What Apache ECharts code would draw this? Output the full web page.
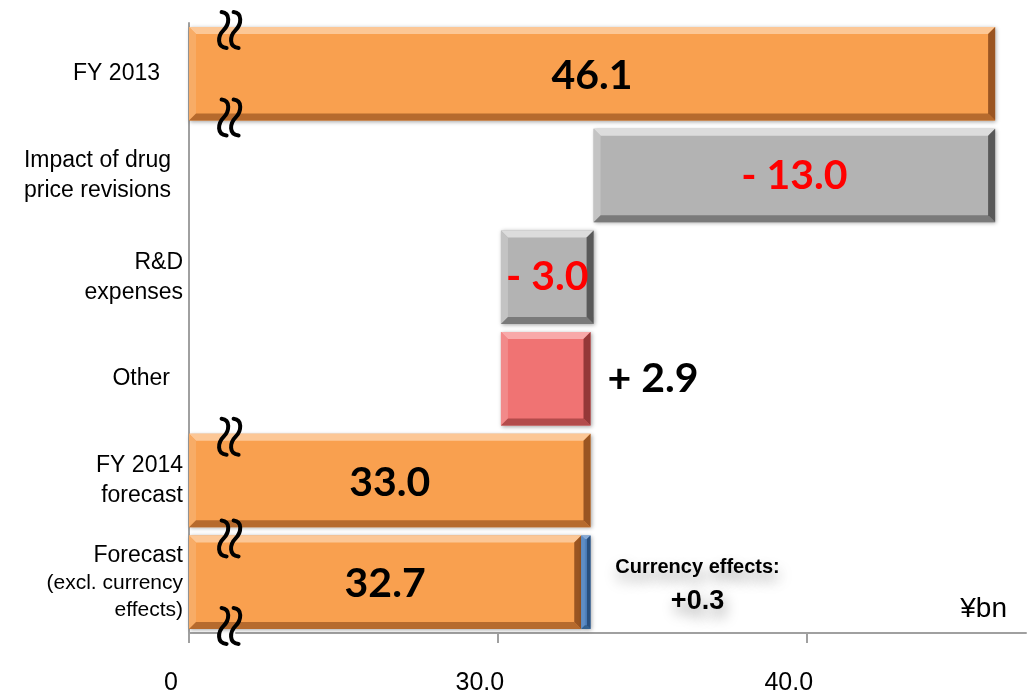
<!DOCTYPE html>
<html>
<head>
<meta charset="utf-8">
<title>Operating income bridge</title>
<script src="https://cdn.jsdelivr.net/npm/echarts@6/dist/echarts.min.js"></script>
<style>
  html, body { margin: 0; padding: 0; background: #ffffff; }
  #chart { width: 1028px; height: 696px; }
</style>
</head>
<body>
<div id="chart"></div>
<script>
// Bridge from FY 2013 results to the FY 2014 forecast, in ¥bn.
const categories = [
  'FY 2013',
  'Impact of drug\nprice revisions',
  'R&D\nexpenses',
  'Other',
  'FY 2014\nforecast',
  'Forecast\n(excl. currency\neffects)'
];
// Totals start at zero; the other steps are stacked onto the running total.
const stepValues = [46.1, -13.0, -3.0, 2.9, 33.0, 32.7];
const stepIsTotal = [true, false, false, false, true, true];
// Currency effects, stacked onto the last forecast bar.
const currencyEffect = 0.3;
const currencyTitle = 'Currency effects:';

// Value axis: labelled ticks and the stretch that is cut out.
const axisTickValues = [0, 30, 40];
const axisMax = 47.1;
const axisBreak = { start: 1, end: 21.5, gap: 0.5 };
// Bars drawn across the cut: [category index, edge (-1 top, 1 bottom)].
const breakMarks = [[0, -1], [0, 1], [4, -1], [5, -1], [5, 1]];

// ---- waterfall geometry built from the values above ----
const barData = [];
const barKinds = [];
let running = 0;
stepValues.forEach((v, i) => {
  let from, to;
  if (stepIsTotal[i]) {
    from = 0; to = v; running = v;
    barKinds.push('total');
  } else {
    from = running; to = running + v; running = to;
    barKinds.push(v < 0 ? 'down' : 'up');
  }
  barData.push([Math.min(from, to), Math.max(from, to), i, v]);
});
const lastIndex = stepValues.length - 1;
barData.push([stepValues[lastIndex], stepValues[lastIndex] + currencyEffect, lastIndex, currencyEffect]);
barKinds.push('currency');

// Bevelled fills: face, then the four sloped edges.
const palette = {
  total:    { base: '#F9A04F', top: '#FCC796', left: '#F8AC66', bottom: '#B66A2D', right: '#9A5522' },
  down:     { base: '#B3B3B3', top: '#DCDCDC', left: '#C3C3C3', bottom: '#7A7A7A', right: '#595959' },
  up:       { base: '#F07373', top: '#F8A9A9', left: '#F28A8A', bottom: '#B34B4B', right: '#943838' },
  currency: { base: '#4F81BD', top: '#86A8D3', left: '#5F8DC5', bottom: '#33608F', right: '#294F7E' }
};
const BAR_FILL = 0.92;
const valueFont = 'bold 41px Lato';

function textEl(text, x, y, opts) {
  return {
    type: 'text',
    z2: 10,
    style: Object.assign({
      text: text, x: x, y: y,
      align: 'center', textAlign: 'center',
      verticalAlign: 'middle', textVerticalAlign: 'middle',
      font: valueFont, fill: '#000000'
    }, opts || {})
  };
}

function renderBar(params, api) {
  const cat = api.value(2);
  const p0 = api.coord([api.value(0), cat]);
  const p1 = api.coord([api.value(1), cat]);
  const h = api.size([0, 1])[1] * BAR_FILL;
  const x = p0[0];
  const w = p1[0] - p0[0];
  const y = p0[1] - h / 2;
  const kind = barKinds[params.dataIndex];
  const c = palette[kind];
  const b = Math.max(1, Math.min(7, w / 2 - 1, h / 2));
  const children = [
    { type: 'rect', shape: { x: x, y: y, width: w, height: h },
      style: { fill: c.base, shadowBlur: 4, shadowOffsetX: 1, shadowOffsetY: 1, shadowColor: 'rgba(0,0,0,0.35)' } },
    { type: 'polygon', shape: { points: [[x, y], [x + w, y], [x + w - b, y + b], [x + b, y + b]] }, style: { fill: c.top } },
    { type: 'polygon', shape: { points: [[x, y], [x + b, y + b], [x + b, y + h - b], [x, y + h]] }, style: { fill: c.left } },
    { type: 'polygon', shape: { points: [[x, y + h], [x + b, y + h - b], [x + w - b, y + h - b], [x + w, y + h]] }, style: { fill: c.bottom } },
    { type: 'polygon', shape: { points: [[x + w, y], [x + w, y + h], [x + w - b, y + h - b], [x + w - b, y + b]] }, style: { fill: c.right } }
  ];
  const v = api.value(3);
  const cx = x + w / 2;
  const cy = y + h / 2;
  if (kind === 'total') {
    children.push(textEl(v.toFixed(1), cx, cy + 2));
  } else if (kind === 'down') {
    children.push(textEl('- ' + Math.abs(v).toFixed(1), cx, cy, { fill: '#FF0000' }));
  } else if (kind === 'up') {
    children.push(textEl('+ ' + v.toFixed(1), x + w + 17, cy, { align: 'left', textAlign: 'left' }));
  } else {
    const shadow = { textShadowColor: 'rgba(0,0,0,0.4)', textShadowBlur: 14, textShadowOffsetX: 2, textShadowOffsetY: 8 };
    children.push(textEl(currencyTitle, x + w + 107, cy - 15,
      Object.assign({ font: 'bold 20px "Liberation Sans"' }, shadow)));
    children.push(textEl('+' + v.toFixed(1), x + w + 107, cy + 19,
      Object.assign({ font: 'bold 27px "Liberation Sans"' }, shadow)));
  }
  return { type: 'group', children: children };
}

// Two wavy strokes marking where a bar crosses the cut in the axis.
function renderBreakMark(params, api) {
  const cat = api.value(1);
  const sign = api.value(2);
  const a = api.coord([axisBreak.start, cat]);
  const e = api.coord([axisBreak.end, cat]);
  const h = api.size([0, 1])[1] * BAR_FILL;
  const cx = (a[0] + e[0]) / 2 + 2;
  const cy = a[1] + sign * (h / 2 - 3);
  const stroke = (sx) => {
    const p = (dx, dy) => (sx + dx).toFixed(1) + ' ' + (cy + dy).toFixed(1);
    return 'M' + p(-2, -18) + ' C' + p(7, -17) + ' ' + p(6, -6) + ' ' + p(0, 0) +
           ' C' + p(-6, 6) + ' ' + p(-7, 17) + ' ' + p(3, 18);
  };
  const style = { fill: null, stroke: '#000000', lineWidth: 4, lineCap: 'round' };
  return {
    type: 'group',
    children: [
      { type: 'path', shape: { pathData: stroke(cx - 6) }, style: style },
      { type: 'path', shape: { pathData: stroke(cx + 6) }, style: style }
    ]
  };
}

// Category labels: right padding per label, smaller type for the note lines.
const labelPadding = { 'FY 2013': 23, 'Impact of drug\nprice revisions': 12, 'Other': 13 };
const labelFamily = '"Liberation Sans", Arial, sans-serif';
const rich = { n: { fontSize: 23, lineHeight: 30, fontFamily: labelFamily, color: '#000' },
               s: { fontSize: 21, lineHeight: 27, fontFamily: labelFamily, color: '#000' } };
Object.values(labelPadding).forEach((p) => {
  rich['n' + p] = { fontSize: 23, lineHeight: 30, fontFamily: labelFamily, color: '#000', padding: [0, p, 0, 0] };
});

const chart = echarts.init(document.getElementById('chart'), null, { renderer: 'canvas' });
chart.setOption({
  animation: false,
  backgroundColor: '#ffffff',
  grid: { left: 189, right: 2, top: 23, bottom: 63, containLabel: false, outerBoundsMode: 'none' },
  xAxis: {
    type: 'value',
    min: 0,
    max: axisMax,
    breaks: [{ start: axisBreak.start, end: axisBreak.end, gap: axisBreak.gap }],
    breakArea: { show: false },
    axisLine: { show: true, lineStyle: { color: '#A0A0A0', width: 2 } },
    axisTick: { show: true, length: 10, customValues: axisTickValues, lineStyle: { color: '#A0A0A0', width: 2 } },
    splitLine: { show: false },
    axisLabel: {
      customValues: axisTickValues,
      formatter: (v) => (v === 0 ? '0' : Number(v).toFixed(1)),
      fontSize: 25,
      fontFamily: labelFamily,
      color: '#000000',
      margin: 38,
      padding: [0, 36, 0, 0]
    }
  },
  yAxis: {
    type: 'category',
    data: categories,
    inverse: true,
    axisLine: { lineStyle: { color: '#A0A0A0', width: 2 } },
    axisTick: { length: 6, lineStyle: { color: '#A0A0A0', width: 2 } },
    splitLine: { show: false },
    axisLabel: {
      margin: 6,
      color: '#000000',
      fontFamily: labelFamily,
      fontSize: 23,
      lineHeight: 30,
      rich: rich,
      formatter: (value) => {
        const pad = labelPadding[value];
        const isNote = value.indexOf('Forecast') === 0;
        return value.split('\n').map((line, li) => {
          const key = (isNote && li > 0) ? 's' : (pad ? 'n' + pad : 'n');
          return '{' + key + '|' + line + '}';
        }).join('\n');
      }
    }
  },
  graphic: [{
    type: 'text',
    right: 21,
    top: 595,
    style: { text: '¥bn', font: '28px "Liberation Sans"', fill: '#000000' }
  }],
  series: [
    {
      type: 'custom',
      name: 'bridge',
      renderItem: renderBar,
      encode: { x: [0, 1], y: 2 },
      data: barData,
      clip: false,
      z: 2
    },
    {
      type: 'custom',
      name: 'axis cut',
      renderItem: renderBreakMark,
      encode: { x: 0, y: 1 },
      data: breakMarks.map((m) => [axisBreak.start, m[0], m[1]]),
      clip: false,
      z: 5
    }
  ]
});
</script>
</body>
</html>
